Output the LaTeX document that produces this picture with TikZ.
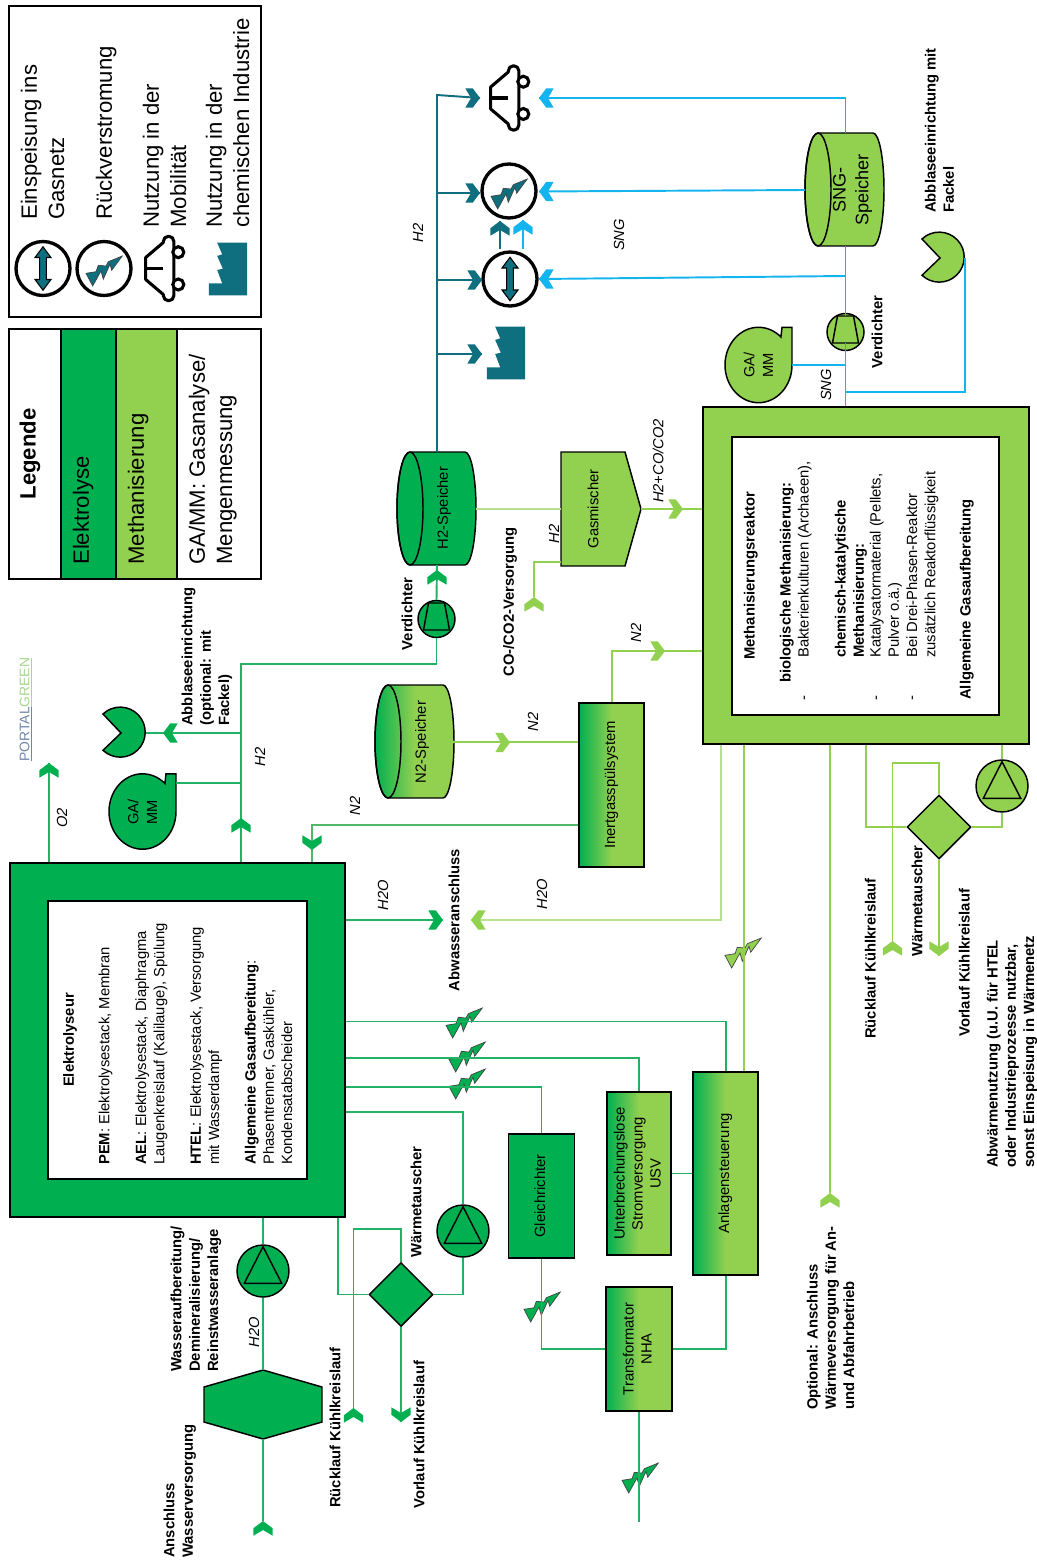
\documentclass[tikz,border=0pt]{standalone}
\usepackage{fontspec}
\setmainfont{Liberation Sans}
\usepackage{graphicx}
\usetikzlibrary{shapes.geometric}
\definecolor{gEL}{HTML}{00B050}
\definecolor{gME}{HTML}{92D050}
\definecolor{gTE}{HTML}{0F6F7E}
\definecolor{gBL}{HTML}{14B4EE}
\definecolor{lnE}{HTML}{22B165}
\definecolor{lnX}{HTML}{52B868}
\definecolor{pgblue}{HTML}{6F86A8}
\definecolor{pggreen}{HTML}{A9D68E}
\newcommand{\rtx}[1]{\rotatebox{90}{\begin{tabular}{@{}c@{}}#1\end{tabular}}}
\tikzset{
 sz/.style 2 args={minimum width=#1*0.75pt,minimum height=#2*0.75pt},
 shp/.style={draw=black,line width=1.1pt,inner sep=0pt,font=\fontsize{11.1}{13.5}\selectfont},
 grad/.style={left color=gEL,right color=gME,middle color=gME},
 tr/.style={rotate=90,anchor=north west,inner sep=0pt,align=left,font=\fontsize{11.1}{13.7}\selectfont},
 tb/.style={rotate=90,anchor=north west,inner sep=0pt,align=left,font=\fontsize{11.1}{13.7}\selectfont\bfseries},
 tbc/.style={rotate=90,inner sep=0pt,font=\fontsize{11.1}{13.7}\selectfont\bfseries},
 ti/.style={rotate=90,inner sep=0pt,font=\fontsize{11}{13}\selectfont\itshape},
 tl/.style={rotate=90,anchor=north west,inner sep=0pt,align=left,font=\fontsize{16.6}{20.5}\selectfont},
 lE/.style={draw=lnE,line width=1.45pt},
 lM/.style={draw=gME,line width=1.45pt},
 lP/.style={draw=gME!65!white,line width=1.45pt},
 lX/.style={draw=lnX,line width=1.45pt},
 lT/.style={draw=gTE,line width=1.45pt},
 lB/.style={draw=gBL,line width=1.45pt},
 ring/.style={circle,draw=black,line width=2.5pt,fill=white,inner sep=0pt,minimum size=54*0.75pt},
 pics/chev/.style={code={\fill[#1] (0,0)--(-9.7,7.3)--(-9.7,14.7)--(0,9)--(9.7,14.7)--(9.7,7.3)--cycle;}},
 pics/bolt/.style={code={\filldraw[fill=#1,draw=black!75,line width=.5pt] (18.3,-15)--(7.7,-0.7)--(6,-6.7)--(-0.7,8.3)--(-3,0)--(-11.3,15)--(-18,2.3)--(-8,0.7)--(-5.7,-5.7)--(2,-5)--(4.3,-9.3)--cycle;}},
 pics/tri/.style={code={\draw[line width=1.1pt] (0,-24.3)--(-18.7,12.3)--(18.7,12.3)--cycle;}},
 pics/trap/.style={code={\draw[line width=1.1pt] (-8,-16)--(8,-16)--(13,11)--(-13,11)--cycle;}},
 pics/dblarrow/.style={code={\filldraw[fill=gTE,draw=black,line width=.8pt] (0,-21.7)--(8,-11)--(3.3,-11)--(3.3,11)--(8,11)--(0,21.7)--(-8,11)--(-3.3,11)--(-3.3,-11)--(-8,-11)--cycle;}},
 pics/factory/.style={code={\fill[gTE] (-10.8,-26.3)--(-5.8,-14.7)--(-10.8,-13)--(-5.2,-0.3)--(-10.8,1)--(-5.8,14.3)--(-19.2,14.3)--(-19.2,26.3)--(19.2,26.3)--(19.2,-26.3)--cycle;}},
 pics/car/.style={code={
   \draw[line width=2.3pt,line join=round,fill=white] (-19.3,-11)--(-1.7,-26)--(-1.7,-27) arc[start angle=180,end angle=360,radius=5.3]--(8.9,27) arc[start angle=0,end angle=180,radius=5.3]--(-1.7,26)--(-19.3,11)--cycle;
   \draw[line width=2.3pt] (-19.3,0)--(-1.7,0);
   \draw[line width=2.3pt,fill=white] (13.3,-16.3) circle[radius=5.5];
   \draw[line width=2.3pt,fill=white] (13.3,16) circle[radius=5.5];}},
 pics/cyl/.style={code={
   \draw[line width=1.1pt,#1] (-26.5,-56.5)--(28.5,-56.5) arc[start angle=-90,end angle=90,x radius=11,y radius=56.5]--(-26.5,56.5) arc[start angle=90,end angle=270,x radius=13,y radius=56.5]--cycle;
   \draw[line width=1.1pt] (-26.5,0) ellipse[x radius=13,y radius=56.5];}},
 pics/gamm/.style={code={
   \draw[line width=1.1pt,fill=#1] (33.5,0) arc[start angle=0,end angle=312,x radius=33.5,y radius=37.7]--(23.5,-37.7)--(33.5,-37.7)--cycle;}},
 pics/pacman/.style={code={
   \draw[line width=1.1pt,fill=#1] (0,0)--(-18,-19) arc[start angle=-133.5,end angle=133.5,radius=25]--cycle;}},
}
\begin{document}
\begin{tikzpicture}[x=0.75pt,y=-0.75pt]
\useasboundingbox (0,0) rectangle (1036,1562);

% ---- legend
\node[shp,sz={52}{250},fill=white] (leg0) at (35,454) {};
\node[shp,sz={55}{250},fill=gEL] (leg1) at (88.5,454) {};
\node[shp,sz={61}{250},fill=gME] (leg2) at (146.5,454) {};
\node[shp,sz={84}{250},fill=white] (leg3) at (219,454) {};
\node[rotate=90,inner sep=0pt,font=\fontsize{16.6}{20}\selectfont\bfseries] (legT) at (30,454) {Legende};
\node[tl] (legE) at (72.5,565) {Elektrolyse};
\node[tl] (legM) at (127.5,565) {Methanisierung};
\node[tl] (legG) at (188.5,565) {GA/MM: Gasanalyse/\\Mengenmessung};
\node[shp,sz={252}{311},fill=white] (leg4) at (135,161.5) {};
\node[tl] (legA) at (20.5,220) {Einspeisung ins\\Gasnetz};
\node[tl] (legB) at (95.5,220) {Rückverstromung};
\node[tl] (legC) at (142.5,228) {Nutzung in der\\Mobilität};
\node[tl] (legD) at (205.5,228) {Nutzung in der\\chemischen Industrie};
\node[ring] (icA) at (43,268.5) {};
\pic at (icA) {dblarrow};
\node[ring] (icB) at (104,268.5) {};
\pic at (104,271) {bolt=gTE};
\pic at (165,268.5) {car};
\pic at (228,269) {factory};

% ---- logo
\node[rotate=90,inner sep=0pt,font=\fontsize{10.4}{12}\selectfont] (logo) at (26,709.5) {{\color{pgblue}\underline{PORTAL}}{\color{pggreen}\underline{GREEN}}};

% ---- main reactors
\node[shp,sz={335}{354},fill=gEL] (elek) at (177.5,1040) {};
\node[shp,sz={259}{278},fill=white] (elekIn) at (177.5,1040) {};
\node[shp,sz={326}{337},fill=gME] (react) at (866,575.5) {};
\node[shp,sz={267}{278},fill=white] (reactIn) at (865.5,576) {};

\node[tbc] (eT) at (70,1040) {Elektrolyseur};
\node[tr] (eB) at (98.5,1165) {\textbf{PEM}: Elektrolysestack, Membran\\[13.7pt]
\textbf{AEL}: Elektrolysestack, Diaphragma\\Laugenkreislauf (Kalilauge),  Spülung\\[13.7pt]
\textbf{HTEL}: Elektrolysestack, Versorgung\\mit Wasserdampf\\[13.7pt]
\textbf{Allgemeine Gasaufbereitung}:\\Phasentrenner, Gaskühler,\\Kondensatabscheider};

\node[tb] (r1) at (743.5,660) {Methanisierungsreaktor};
\node[tb] (r2) at (779.5,683) {biologische Methanisierung:};
\node[tr] (r3) at (803.5,701) {-};
\node[tr] (r4) at (797.5,658) {Bakterienkulturen (Archaeen),};
\node[tb] (r5) at (834.5,658) {chemisch-katalytische\\Methanisierung:};
\node[tr] (r6) at (875.5,701) {-};
\node[tr] (r7) at (869.5,658) {Katalysatormaterial (Pellets,\\Pulver o.ä.)\\Bei Drei-Phasen-Reaktor\\zusätzlich Reaktorflüssigkeit};
\node[tr] (r8) at (911.5,701) {-};
\node[tb] (r9) at (959.5,700) {Allgemeine Gasaufbereitung};

% ---- boxes
\node[shp,sz={66}{124},fill=gEL] (gleich) at (541.5,1196) {\rtx{Gleichrichter}};
\node[shp,sz={64}{163},grad] (usv) at (639,1173.5) {\rtx{Unterbrechungslose\\Stromversorgung\\USV}};
\node[shp,sz={65}{203},grad] (anlage) at (725.5,1173.5) {\rtx{Anlagensteuerung}};
\node[shp,sz={66}{124},grad] (trafo) at (639,1349) {\rtx{Transformator\\NHA}};
\node[shp,sz={65}{164},grad] (inert) at (611.5,785) {\rtx{Inertgasspülsystem}};
\filldraw[draw=black,line width=1.1pt,fill=gME] (561,452)--(625,452)--(641,509)--(625,566)--(561,566)--cycle;
\node[rotate=90,inner sep=0pt,font=\fontsize{11.1}{13.5}\selectfont] (gas) at (593,509) {Gasmischer};
\coordinate (gasW) at (561,509);
\coordinate (gasE) at (641,509);
\coordinate (gasCO) at (561,562);

% ---- cylinders
\pic at (436.5,508.5) {cyl={fill=gEL}};
\node[rotate=90,inner sep=0pt,font=\fontsize{11.1}{13.5}\selectfont] (h2s) at (444,508) {H2-Speicher};
\coordinate (h2sN) at (437,452); \coordinate (h2sS) at (437,565); \coordinate (h2sE) at (476,509);
\pic at (414.5,741.5) {cyl={grad}};
\node[rotate=90,inner sep=0pt,font=\fontsize{11.1}{13.5}\selectfont] (n2s) at (422,742) {N2-Speicher};
\coordinate (n2sE) at (453,742);
\pic at (844.5,189.5) {cyl={fill=gME}};
\node[rotate=90,inner sep=0pt,align=center,font=\fontsize{13.6}{17}\selectfont] (sngs) at (852.5,190) {SNG-\\Speicher};
\coordinate (sngN) at (845.5,133); \coordinate (sngS) at (845.5,246); \coordinate (sngW) at (805,190);

% ---- GA/MM, flare
\pic at (142.5,811.5) {gamm=gEL};
\node[rotate=90,inner sep=0pt,align=center,font=\fontsize{11}{14}\selectfont] (ga1) at (142.5,812) {GA/\\MM};
\coordinate (ga1E) at (176,783);
\pic at (758.5,365) {gamm=gME};
\node[rotate=90,inner sep=0pt,align=center,font=\fontsize{11}{14}\selectfont] (ga2) at (758.5,365) {GA/\\MM};
\coordinate (ga2E) at (792,365);
\pic at (121,733) {pacman=gEL};
\coordinate (pac1E) at (146,733);
\pic at (940,258) {pacman=gME};
\coordinate (pac2E) at (965,258);

% ---- compressors, pumps, exchangers
\node[shp,circle,minimum size=37*0.75pt,fill=gEL] (vd1) at (436.5,619) {};
\pic at (vd1) {trap};
\node[shp,circle,minimum size=37*0.75pt,fill=gME] (vd2) at (845.5,332) {};
\pic at (vd2) {trap};
\node[shp,circle,minimum size=52*0.75pt,fill=gEL] (pu1) at (463,1231) {};
\pic at (pu1) {tri};
\node[shp,circle,minimum size=52*0.75pt,fill=gEL] (pu2) at (263,1271) {};
\pic at (pu2) {tri};
\node[shp,circle,minimum size=52*0.75pt,fill=gME] (pu3) at (1002,786) {};
\pic at (pu3) {tri};
\node[shp,diamond,aspect=1,minimum width=64*0.75pt,minimum height=64*0.75pt,fill=gEL] (wt1) at (401,1294.5) {};
\node[shp,diamond,aspect=1,minimum width=64*0.75pt,minimum height=64*0.75pt,fill=gME] (wt2) at (939,827) {};
\filldraw[draw=black,line width=1.1pt,fill=gEL] (263,1370)--(322,1387)--(322,1422)--(263,1439)--(204,1422)--(204,1387)--cycle;
\coordinate (hexN) at (263,1370); \coordinate (hexS) at (263,1439);

% ---- use icons
\node[ring] (ciB) at (509,191) {};
\pic at (509,194) {bolt=gTE};
\node[ring] (ciA) at (510,279) {};
\pic at (ciA) {dblarrow};
\pic (carI) at (510,98) {car};
\pic (facI) at (506,353) {factory};

% ---- bolts (below the lines)
\pic at (464,1023) {bolt=gEL};
\pic at (467,1057) {bolt=gEL};
\pic at (467,1084) {bolt=gEL};
\pic at (542,1307) {bolt=gEL};
\pic at (640,1478) {bolt=gEL};
\pic at (743,953) {bolt=gME};

% ---- port coordinates
\coordinate (o2tip) at (49,763);
\coordinate (h2up) at (241,818);
\coordinate (h2cor) at (241,664);
\coordinate (blow) at (241,733);
\coordinate (blowtip) at (163,733);
\coordinate (gaj) at (241,783);
\coordinate (n2in) at (312,825);
\coordinate (n2tip) at (312,850);
\coordinate (wasteL) at (443,920);
\coordinate (wasteR) at (471,920);
\coordinate (wasteC) at (721,920);
\coordinate (pw1) at (726,1021.5);
\coordinate (pw2) at (639,1058);
\coordinate (pw3) at (542,1087);
\coordinate (pw4) at (463,1112);
\coordinate (k1c) at (338,1294.5);
\coordinate (k1t) at (401,1229);
\coordinate (k1l) at (353.5,1229);
\coordinate (k1tip) at (353.5,1408);
\coordinate (k1d) at (401,1422);
\coordinate (wsup) at (263,1521);
\coordinate (k2c) at (866,827);
\coordinate (k2t) at (939,763);
\coordinate (k2l) at (892.5,763);
\coordinate (k2tip) at (892.5,941);
\coordinate (k2d) at (939,956);
\coordinate (heatX) at (830,1193);
\coordinate (ctlX) at (744,744);
\coordinate (n2r) at (612,651);
\coordinate (n2rc) at (665,651);
\coordinate (n2i) at (510,742.5);
\coordinate (gasT) at (683,509);
\coordinate (coT) at (534,597);
\coordinate (tRC) at (726,1349);
\coordinate (mains) at (639,1522);
\coordinate (tee) at (437,95);
\coordinate (tCar) at (480,98);
\coordinate (tBolt) at (480,193);
\coordinate (tGrid0) at (440,280);
\coordinate (tGrid) at (482,280);
\coordinate (tFac0) at (440,354);
\coordinate (tFac) at (482,354);
\coordinate (bCar) at (539,98);
\coordinate (bCor) at (845.5,98);
\coordinate (bBolt) at (539,191.5);
\coordinate (bGrid) at (539,279);
\coordinate (bGridJ) at (845.5,276);
\coordinate (bGa) at (845.5,365);
\coordinate (bFl) at (845.5,392);
\coordinate (upT0) at (500,249);
\coordinate (upT) at (500,221);
\coordinate (upB0) at (523,249);
\coordinate (upB) at (523,220);
\coordinate (vd2top) at (845.5,316);
\coordinate (vd2bot) at (845.5,343);

% ---- connectors
\draw[lE] (elek.north -| o2tip)--(o2tip);
\draw[lE] (elek.north -| h2up)--(h2cor)-|(vd1.south);
\draw[lE] (blow)--(pac1E);
\draw[lE] (gaj)--(ga1E);
\draw[lE] (vd1.north)--(h2sS);
\draw[lX] (inert.west |- n2in)-|(elek.north -| n2tip);
\draw[lE] (elek.east |- wasteL)--(wasteL);
\draw[lP] (react.south -| wasteC)|-(wasteR);
\draw[lE] (elek.east |- pw1)-|(anlage.north -| pw1);
\draw[lE] (elek.east |- pw2)-|(usv.north);
\draw[lE] (elek.east |- pw3)-|(gleich.north);
\draw[lE] (elek.east |- pw4)-|(pu1.north);
\draw[lE] (pu1.south)|-(wt1.east);
\draw[lE] (elek.south -| k1c)|-(wt1.west);
\draw[lE] (wt1.north)--(k1t)--(k1l)--(k1tip);
\draw[lE] (wt1.south)--(k1d);
\draw[lE] (elek.south -| pu2)--(pu2.north);
\draw[lE] (pu2.south)--(hexN);
\draw[lE] (hexS)--(wsup);
\draw[lE] (anlage.west |- usv)--(usv.east);
\draw[lE] (gleich.south)|-(trafo.west);
\draw[lE] (trafo.east)-|(anlage.south -| tRC);
\draw[lE] (trafo.south)--(mains);
\draw[lM] (react.south -| ctlX)--(anlage.north -| ctlX);
\draw[lM] (react.south -| heatX)--(heatX);
\draw[lM] (react.south -| k2c)|-(wt2.west);
\draw[lM] (wt2.north)--(k2t)--(k2l)--(k2tip);
\draw[lM] (wt2.south)--(k2d);
\draw[lM] (wt2.east)-|(pu3.south);
\draw[lM] (pu3.north)--(react.south -| pu3);
\draw[lM] (n2sE)--(inert.west |- n2sE);
\draw[lM] (inert.north -| n2r)|-(react.west |- n2r);
\draw[lP] (h2sE)--(gasW);
\draw[lM] (gasE)--(react.west |- gasE);
\draw[lM] (gasCO)-|(coT);
\draw[lT] (h2sN)--(tee)--(tCar);
\draw[lT] (tBolt -| tee)--(tBolt);
\draw[lT] (tGrid0 -| tee)--(tGrid);
\draw[lT] (tFac0 -| tee)--(tFac);
\draw[lT] (upT0)--(upT);
\draw[lB] (upB0)--(upB);
\draw[lB] (sngN)--(bCor)--(bCar);
\draw[lB] (sngW)--(bBolt);
\draw[lB] (bGridJ)--(bGrid);
\draw[lB] (sngS)--(vd2top);
\draw[lB] (vd2bot)--(react.north -| vd2);
\draw[lB] (bGa)--(ga2E);
\draw[lB] (bFl)-|(pac2E);

% ---- arrowheads
\pic at (o2tip) {chev=gEL};
\pic at (h2up) {chev=gEL};
\pic[rotate=90] at (blowtip) {chev=gEL};
\pic[rotate=180] at (n2tip) {chev=gEL};
\pic at (437,570) {chev=gEL};
\pic[rotate=-90] at (wasteL) {chev=gEL};
\pic[rotate=90] at (wasteR) {chev=gME};
\pic at (k1tip) {chev=gEL};
\pic[rotate=180] at (k1d) {chev=gEL};
\pic at (wsup) {chev=gEL};
\pic at (k2tip) {chev=gME};
\pic[rotate=180] at (k2d) {chev=gME};
\pic at (heatX) {chev=gME};
\pic[rotate=-90] at (n2i) {chev=gME};
\pic[rotate=-90] at (n2rc) {chev=gME};
\pic[rotate=-90] at (gasT) {chev=gME};
\pic at (coT) {chev=gME};
\pic[rotate=-90] at (tCar) {chev=gTE};
\pic[rotate=-90] at (tBolt) {chev=gTE};
\pic[rotate=-90] at (tGrid) {chev=gTE};
\pic[rotate=-90] at (tFac) {chev=gTE};
\pic at (upT) {chev=gTE};
\pic at (upB) {chev=gBL};
\pic[rotate=90] at (bCar) {chev=gBL};
\pic[rotate=90] at (bBolt) {chev=gBL};
\pic[rotate=90] at (bGrid) {chev=gBL};

% ---- connector labels
\node[ti] (lO2) at (62,818) {O2};
\node[ti] (lH2a) at (260,757) {H2};
\node[ti] (lN2a) at (355,806) {N2};
\node[ti] (lN2b) at (533,722) {N2};
\node[ti] (lN2c) at (636,633) {N2};
\node[ti] (lH2b) at (554,534) {H2};
\node[ti] (lMix) at (658,461) {H2+CO/CO2};
\node[ti] (lH2c) at (418,233) {H2};
\node[ti] (lSNGa) at (619,235) {SNG};
\node[ti] (lSNGb) at (826,385) {SNG};
\node[ti] (lW1) at (383,895) {H2O};
\node[ti] (lW2) at (542,894) {H2O};
\node[ti] (lW3) at (254,1332) {H2O};

% ---- descriptive labels
\node[tb] (d1) at (181.5,726) {Abblaseeinrichtung\\(optional: mit\\Fackel)};
\node[tbc] (d2) at (407,614) {Verdichter};
\node[tbc] (d3) at (510,602) {CO-/CO2-Versorgung};
\node[tbc] (d4) at (454,920) {Abwasseranschluss};
\node[tbc] (d5) at (877,332) {Verdichter};
\node[tb] (d6) at (924.5,213) {Abblaseeinrichtung mit\\Fackel};
\node[tb] (d7) at (170.5,1372) {Wasseraufbereitung/\\Demineralisierung/\\Reinstwasseranlage};
\node[tb] (d8) at (163.5,1558) {Anschluss\\Wasserversorgung};
\node[tb] (d9) at (329.5,1508) {Rücklauf Kühlkreislauf};
\node[tb] (d10) at (413.5,1509) {Vorlauf Kühlkreislauf};
\node[tbc] (d11) at (416,1202) {Wärmetauscher};
\node[tbc] (d12) at (917,901) {Wärmetauscher};
\node[tb] (d13) at (864.5,1039) {Rücklauf Kühlkreislauf};
\node[tb] (d14) at (958.5,1037) {Vorlauf Kühlkreislauf};
\node[tb] (d15) at (986.5,1168) {Abwärmenutzung (u.U. für HTEL\\oder Industrieprozesse nutzbar,\\sonst Einspeisung in Wärmenetz};
\node[tb] (d16) at (806.5,1410) {Optional: Anschluss\\Wärmeversorgung für An-\\und Abfahrbetrieb};
\end{tikzpicture}
\end{document}
